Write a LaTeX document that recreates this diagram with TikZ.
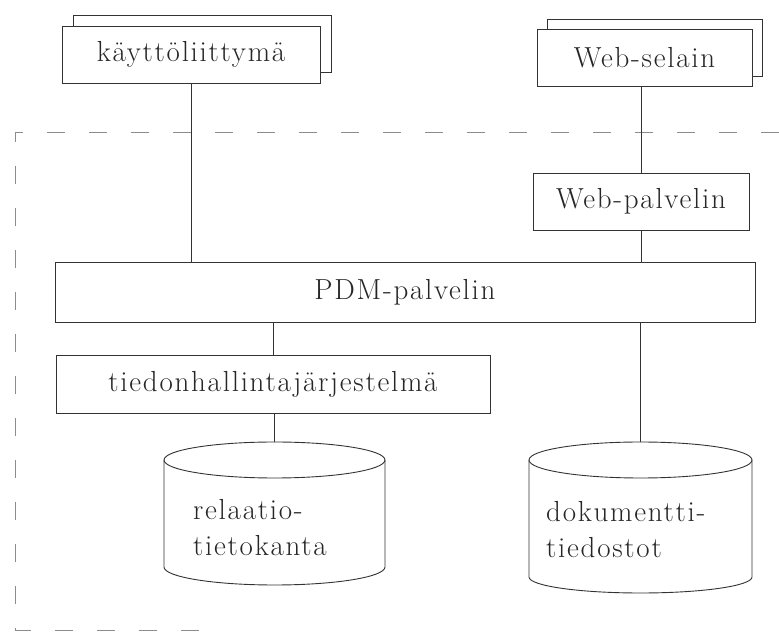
\documentclass[tikz,border=0pt]{standalone}
\usepackage{fontspec}
\setmainfont{Latin Modern Roman}[LetterSpace=6]
\usetikzlibrary{calc}
\begin{document}
\begin{tikzpicture}[x=1pt,y=1pt,
  boxline/.style={draw=black!80, line width=0.9pt},
  box/.style={boxline, fill=white, inner sep=0pt, outer sep=0pt,
    font=\fontsize{29}{34}\selectfont, text=black!85},
  dbframe/.style={inner sep=0pt, outer sep=0pt},
  dblabel/.style={align=left, inner sep=0pt, font=\fontsize{29}{36}\selectfont, text=black!85},
  link/.style={draw=black!80, line width=0.9pt},
  frame/.style={draw=black!45, line width=0.9pt, dash pattern=on 18pt off 24pt}
]
\useasboundingbox (0,0) rectangle (779,637);

% boundary of the server side
\draw[frame] (779,505) -- (15,505) -- (15,7) -- (215,7);

% client programs, drawn as stacked windows
\node[box, minimum width=258pt, minimum height=57pt] (kayback) at (202,593.5) {};
\node[box, minimum width=258pt, minimum height=57pt] (kay) at (191,582.5) {käyttöliittymä};
\node[box, minimum width=215pt, minimum height=57pt] (selback) at (654.5,589.5) {};
\node[box, minimum width=215pt, minimum height=57pt] (sel) at (644.5,579.5) {Web-selain};

% servers
\node[box, minimum width=216pt, minimum height=57pt] (palv) at (641,435.5) {Web-palvelin};
\node[box, minimum width=700pt, minimum height=60pt] (pdm) at (405,345) {PDM-palvelin};
\node[box, minimum width=434pt, minimum height=58pt] (tdh) at (273,253) {tiedonhallintajärjestelmä};

% storage cylinders
\node[dbframe, minimum width=221pt, minimum height=143pt] (rel) at (274.5,123.5) {};
\node[dbframe, minimum width=223pt, minimum height=151pt] (dok) at (640.5,119.5) {};
\draw[boxline] ([yshift=-18pt]rel.north west) -- ([yshift=18pt]rel.south west)
  arc[start angle=180, end angle=360, x radius=110.5pt, y radius=18pt]
  -- ([yshift=-18pt]rel.north east);
\draw[boxline] ([yshift=-18pt]rel.north) ellipse [x radius=110.5pt, y radius=18pt];
\draw[boxline] ([yshift=-18pt]dok.north west) -- ([yshift=16pt]dok.south west)
  arc[start angle=180, end angle=360, x radius=111.5pt, y radius=16pt]
  -- ([yshift=-18pt]dok.north east);
\draw[boxline] ([yshift=-18pt]dok.north) ellipse [x radius=111.5pt, y radius=18pt];
\node[dblabel, anchor=west] (reltext) at ([yshift=-14pt]rel.west -| 193,0) {relaatio-\\tietokanta};
\node[dblabel, anchor=west] (doktext) at ([yshift=-12pt]dok.west -| 546,0) {dokumentti-\\tiedostot};

% connections
\draw[link] (kay.south) -- (kay.south |- pdm.north);
\draw[link] (palv.north |- sel.south) -- (palv.north);
\draw[link] (palv.south) -- (palv.south |- pdm.north);
\draw[link] (pdm.south -| tdh.north) -- (tdh.north);
\draw[link] (rel.north |- tdh.south) -- (rel.north);
\draw[link] (pdm.south -| dok.north) -- (dok.north);
\end{tikzpicture}
\end{document}
